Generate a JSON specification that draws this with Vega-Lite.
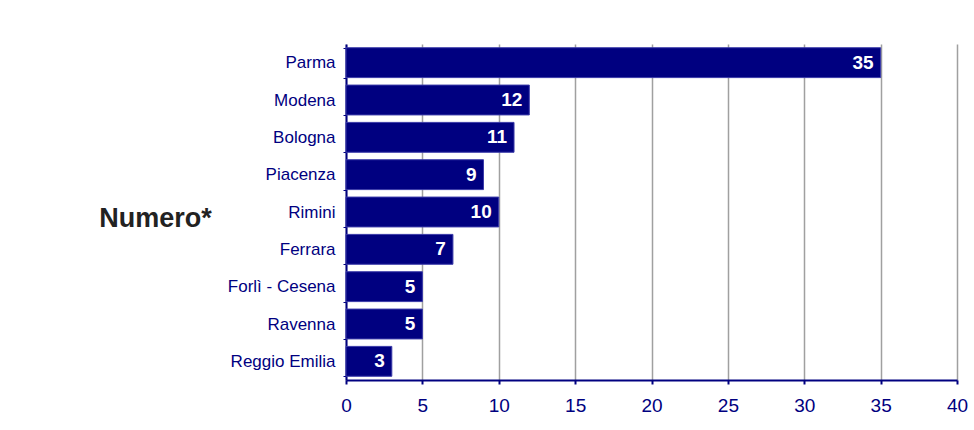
{
  "$schema": "https://vega.github.io/schema/vega-lite/v6.json",
  "width": 611,
  "height": 336,
  "autosize": {"type": "none"},
  "padding": {"left": 346, "top": 44, "right": 17, "bottom": 50},
  "background": "white",
  "config": {"view": {"stroke": null}, "font": "Liberation Sans"},
  "data": {"values": [
    {"provincia": "Parma", "numero": 35},
    {"provincia": "Modena", "numero": 12},
    {"provincia": "Bologna", "numero": 11},
    {"provincia": "Piacenza", "numero": 9},
    {"provincia": "Rimini", "numero": 10},
    {"provincia": "Ferrara", "numero": 7},
    {"provincia": "Forlì - Cesena", "numero": 5},
    {"provincia": "Ravenna", "numero": 5},
    {"provincia": "Reggio Emilia", "numero": 3}
  ]},
  "encoding": {
    "y": {
      "field": "provincia", "type": "nominal",
      "sort": ["Parma", "Modena", "Bologna", "Piacenza", "Rimini", "Ferrara", "Forlì - Cesena", "Ravenna", "Reggio Emilia"],
      "scale": {"paddingInner": 0.2, "paddingOuter": 0.1},
      "axis": {
        "title": "Numero*", "titleAngle": 0, "titleX": -191, "titleY": 174,
        "titleAlign": "center", "titleBaseline": "middle",
        "titleFontSize": 27, "titleFontWeight": "bold", "titleColor": "#222222",
        "labelColor": "#000080", "labelFontSize": 17, "labelPadding": 8,
        "tickColor": "#000080", "tickSize": 3, "tickBand": "extent",
        "domainColor": "#000080", "domainWidth": 2
      }
    },
    "x": {
      "field": "numero", "type": "quantitative",
      "scale": {"domain": [0, 40], "nice": false},
      "axis": {
        "title": null, "values": [0, 5, 10, 15, 20, 25, 30, 35, 40],
        "labelFlush": false,
        "labelColor": "#000080", "labelFontSize": 19, "labelPadding": 12,
        "tickColor": "#000080", "tickSize": 4, "tickWidth": 2,
        "domainColor": "#000080", "domainWidth": 2,
        "grid": true, "gridColor": "#a0a0a0", "gridWidth": 1.5
      }
    }
  },
  "layer": [
    {"mark": {"type": "bar", "color": "#000080", "stroke": "#3a3aa8", "strokeWidth": 1}},
    {
      "mark": {"type": "text", "align": "right", "baseline": "middle", "dx": -7, "color": "white", "fontSize": 19, "fontWeight": "bold"},
      "encoding": {"text": {"field": "numero", "type": "quantitative"}}
    }
  ]
}
